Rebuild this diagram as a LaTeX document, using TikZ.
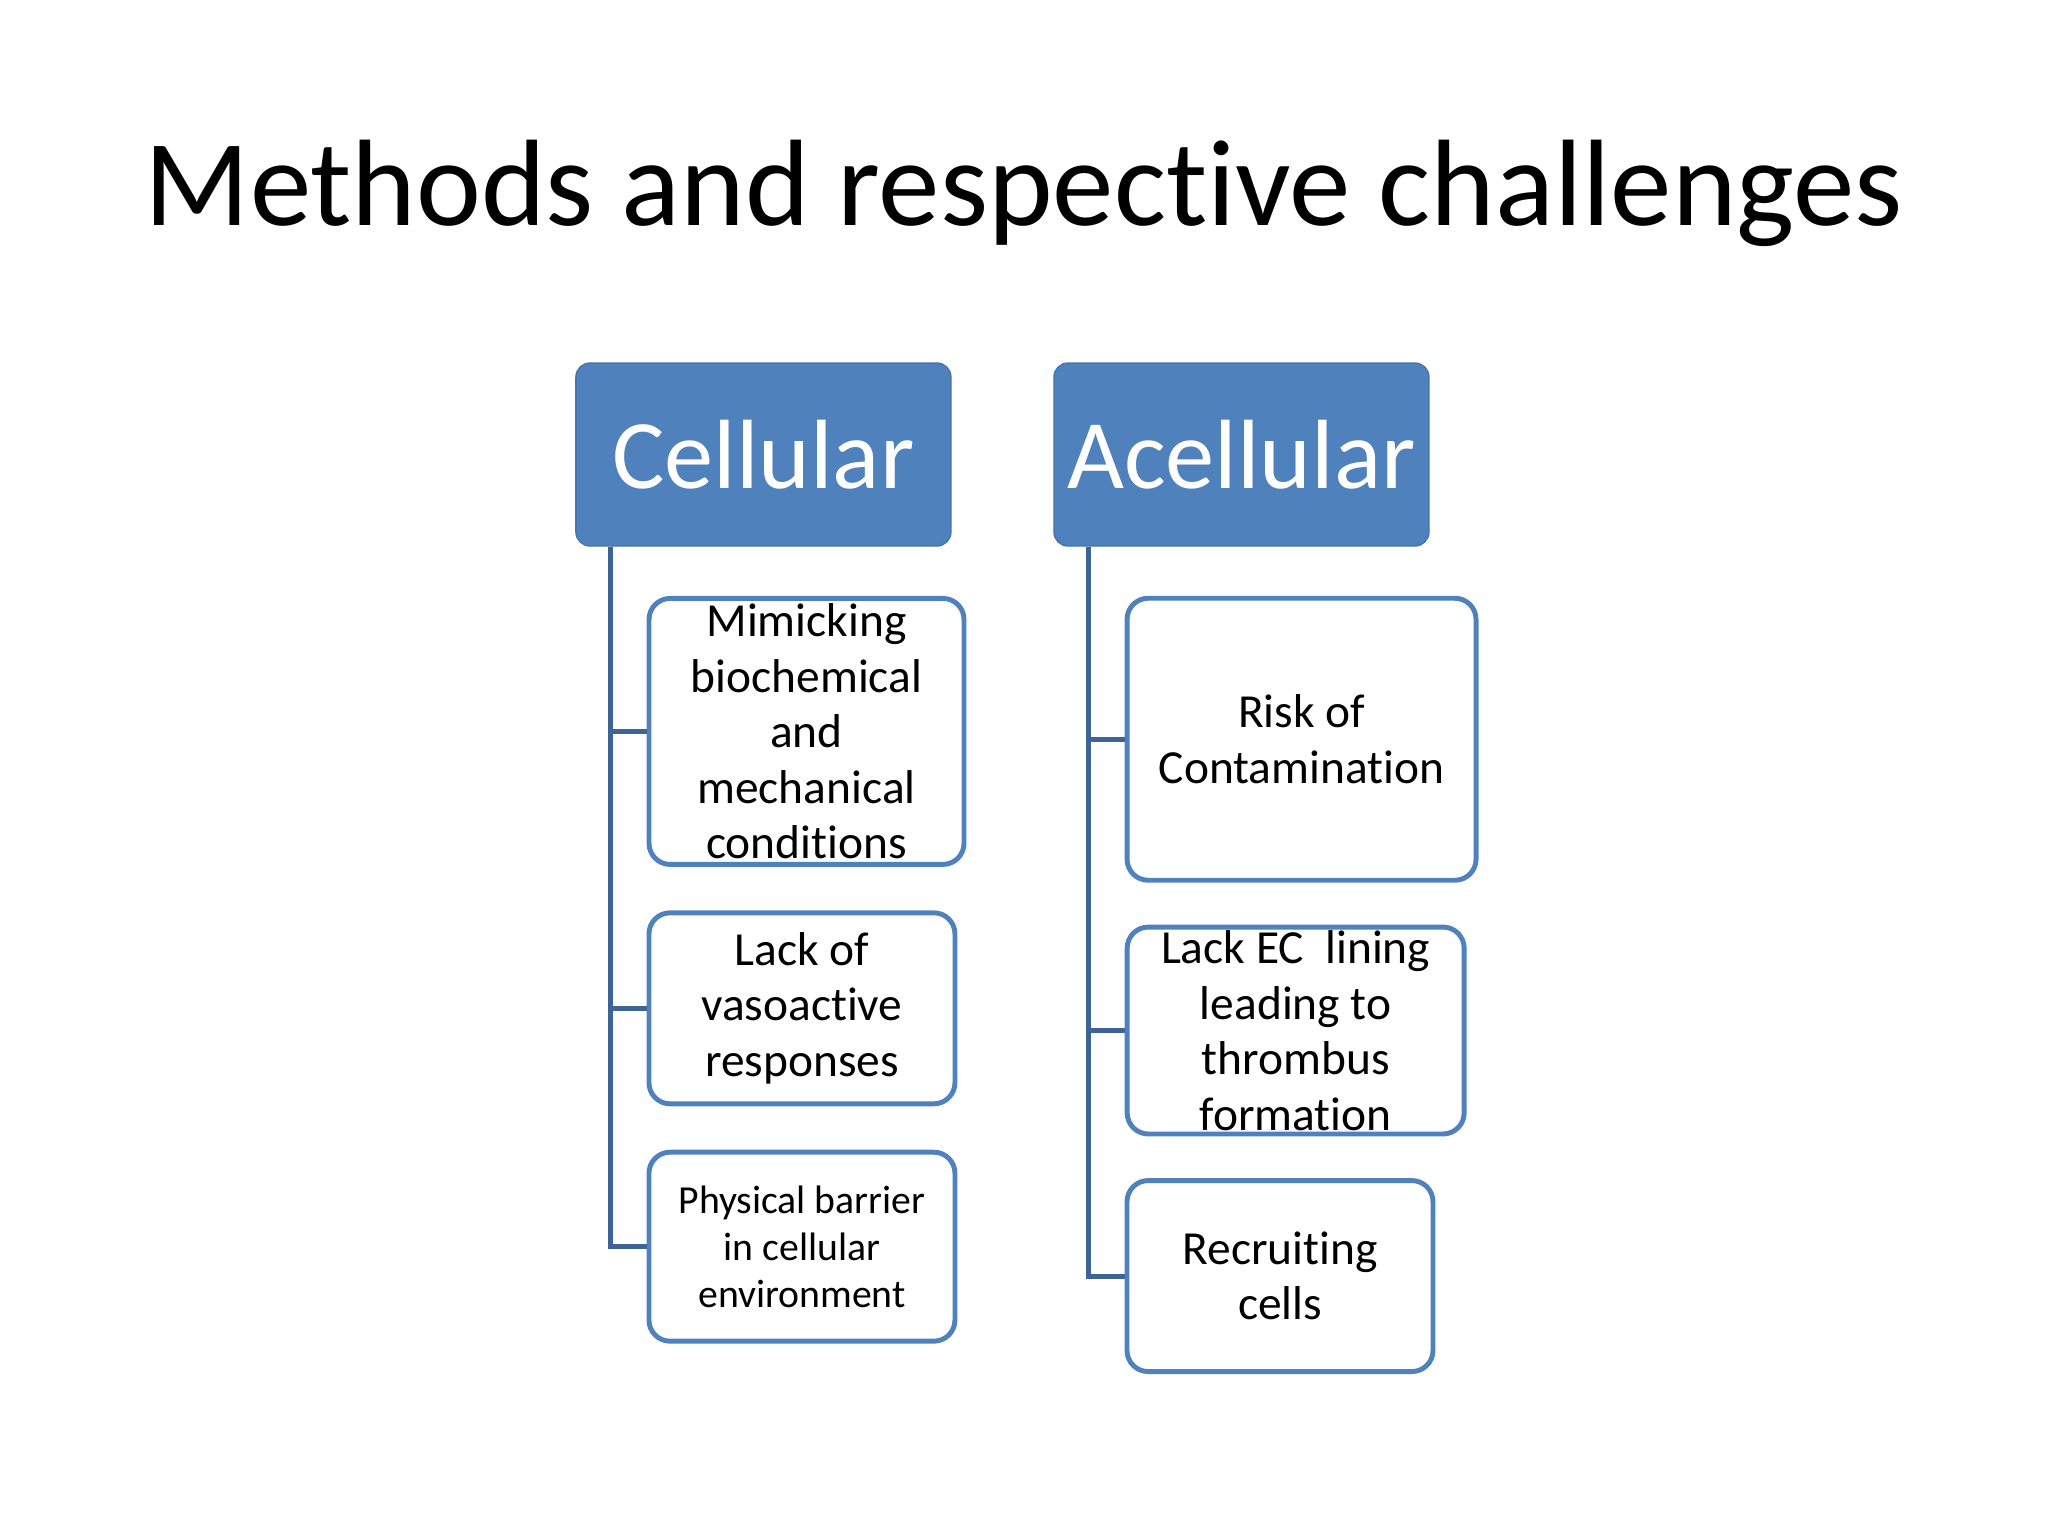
\documentclass[tikz,border=0pt]{standalone}
\usepackage{fontspec}
\setmainfont{Carlito}[Ligatures=NoCommon]
\usetikzlibrary{positioning,calc}
\definecolor{hdblue}{HTML}{4F81BD}
\definecolor{lnblue}{HTML}{3E6497}
\tikzset{
  head/.style={fill=hdblue, draw=hdblue!90!black, rounded corners=4pt, text=white,
    minimum width=3.75cm, minimum height=1.83cm, font=\fontsize{28}{32}\selectfont},
  leaf/.style={draw=hdblue, line width=1.4pt, rounded corners=6pt, fill=white, align=center,
    font=\fontsize{13.5}{15.8}\selectfont, inner sep=1pt},
  link/.style={draw=lnblue, line width=1.4pt}
}
\begin{document}
\begin{tikzpicture}[x=0.01306cm, y=-0.01306cm]
\useasboundingbox (0,0) rectangle (1568,1176);
\node (title) at (784,148) {\fontsize{35}{40}\selectfont Methods and respective challenges};

\node[head] (cell) at (584.5,348) {Cellular};
\node[head] (acell) at (950.5,348) {Acellular};

\node[leaf, minimum width=3.15cm, minimum height=2.66cm] (mimic) at (617.5,560)
  {Mimicking\\biochemical\\and\\mechanical\\conditions};
\node[leaf, minimum width=3.06cm, minimum height=1.91cm] (lack) at (614,772)
  {Lack of\\vasoactive\\responses};
\node[leaf, minimum width=3.06cm, minimum height=1.89cm,
  font=\fontsize{11.3}{13.4}\selectfont] (phys) at (614,954.5)
  {Physical barrier\\in cellular\\environment};

\node[leaf, minimum width=3.49cm, minimum height=2.82cm] (risk) at (996.5,566)
  {Risk of\\Contamination};
\node[leaf, minimum width=3.37cm, minimum height=2.04cm] (ec) at (992,789)
  {Lack EC~ lining\\leading to\\thrombus\\formation};
\node[leaf, minimum width=3.06cm, minimum height=1.91cm] (recr) at (980,977)
  {Recruiting\\cells};

\foreach \c in {mimic,lack,phys}
  \draw[link] ($(cell.south west)+(27,0)$) |- (\c.west);
\foreach \c in {risk,ec,recr}
  \draw[link] ($(acell.south west)+(27,0)$) |- (\c.west);
\end{tikzpicture}
\end{document}
